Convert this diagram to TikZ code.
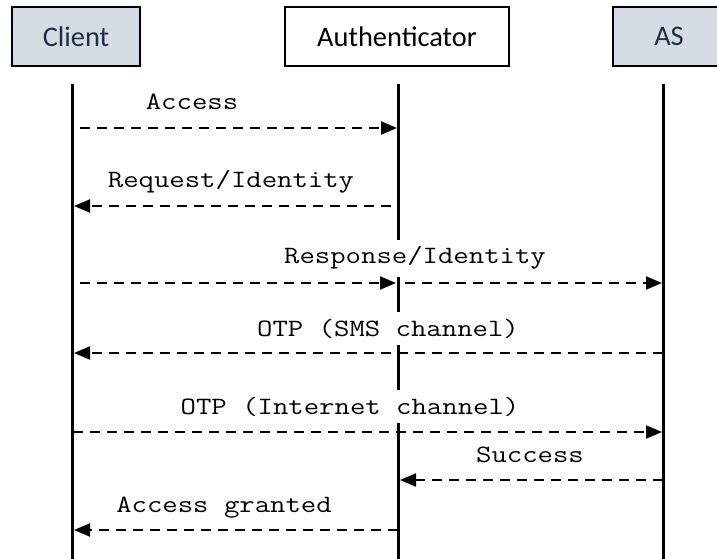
\documentclass[tikz,border=0pt]{standalone}
\usepackage{fontspec}
\usepackage{graphicx}
\newfontfamily\boxfont{Carlito}
\usetikzlibrary{arrows.meta}
\definecolor{boxfill}{HTML}{D6DCE4}
\definecolor{boxtext}{HTML}{1F2F4A}
\newcommand{\msgtext}[1]{\scalebox{1.2}[1]{#1}}
\tikzset{
  actor/.style={draw=black, line width=1.8bp, minimum height=59bp, inner sep=0pt,
    font=\boxfont\fontsize{28.5}{30}\selectfont},
  lifeline/.style={line width=3bp},
  msg/.style={dash pattern=on 10bp off 7bp, line width=2bp,
    -{Triangle[length=16bp,width=13bp]}},
  msglabel/.style={fill=white, inner xsep=2bp, inner ysep=7bp, anchor=base,
    font=\ttfamily\fontsize{25}{25}\selectfont}
}
\begin{document}
\begin{tikzpicture}[x=1bp, y=-1bp]
\useasboundingbox (0,0) rectangle (717,559);
% actors
\node[actor, fill=boxfill, text=boxtext, minimum width=128bp] (client) at (76,36.5) {Client};
\node[actor, fill=white, text=black, minimum width=224bp] (auth) at (397,36.5) {Authenticator};
\node[actor, fill=boxfill, text=boxtext, minimum width=112bp] (as) at (669,36.5) {AS};
% lifelines
\coordinate (ct) at (72,84);  \coordinate (cb) at (72,562);
\coordinate (at) at (398,84); \coordinate (ab) at (398,562);
\coordinate (st) at (663,84); \coordinate (sb) at (663,562);
\draw[lifeline] (ct) -- (cb);
\draw[lifeline] (at) -- (ab);
\draw[lifeline] (st) -- (sb);
% labels
\node[msglabel] (l1) at (192,110) {\msgtext{Access}};
\node[msglabel] (l2) at (231,188) {\msgtext{Request/Identity}};
\node[msglabel] (l3) at (415,264) {\msgtext{Response/Identity}};
\node[msglabel] (l4) at (388,336) {\msgtext{OTP (SMS channel)}};
\node[msglabel] (l5) at (350,414) {\msgtext{OTP (Internet channel)}};
\node[msglabel] (l6) at (530,462) {\msgtext{Success}};
\node[msglabel] (l7) at (224,512) {\msgtext{Access granted}};
% message end points
\coordinate (m1a) at (80,128);  \coordinate (m1b) at (397,128);
\coordinate (m2a) at (391,206); \coordinate (m2b) at (74,206);
\coordinate (m3a) at (80,283);  \coordinate (m3b) at (396,283);
\coordinate (m3c) at (405,283); \coordinate (m3d) at (662,283);
\coordinate (m4a) at (663,353); \coordinate (m4b) at (74,353);
\coordinate (m5a) at (73,432);  \coordinate (m5b) at (662,432);
\coordinate (m6a) at (663,480); \coordinate (m6b) at (400,480);
\coordinate (m7a) at (398,530); \coordinate (m7b) at (74,530);
\draw[msg] (m1a) -- (m1b);
\draw[msg] (m2a) -- (m2b);
\draw[msg] (m3a) -- (m3b);
\draw[msg] (m3c) -- (m3d);
\draw[msg] (m4a) -- (m4b);
\draw[msg] (m5a) -- (m5b);
\draw[msg] (m6a) -- (m6b);
\draw[msg] (m7a) -- (m7b);
\end{tikzpicture}
\end{document}
